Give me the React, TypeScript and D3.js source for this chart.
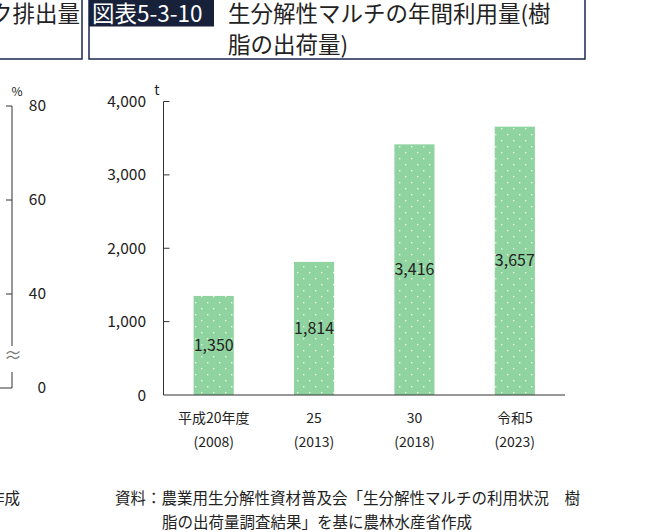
import React from 'react';
import * as d3 from 'd3';

// 図表5-3-10 生分解性マルチの年間利用量
const categories = ['平成20年度', '25', '30', '令和5'];
const years = ['(2008)', '(2013)', '(2018)', '(2023)'];
const values = [1350, 1814, 3416, 3657];
const yTicks = [0, 1000, 2000, 3000, 4000];

// neighbouring chart (cut off at the left edge)
const leftTicks = [80, 60, 40];
const leftBottomLabel = '0';

const W = 663;
const H = 532;
const FONT = '"Noto Sans CJK JP", "Noto Sans", sans-serif';
const INK = '#222';
const NAVY = '#1d2754';

const App: React.FC = () => {
    const margin = { top: 101.5, right: 98, bottom: 137, left: 163.5 };

    const x = d3.scaleBand<string>()
        .domain(categories)
        .range([margin.left, W - margin.right])
        .paddingInner(0.6)
        .paddingOuter(0.3);

    const y = d3.scaleLinear()
        .domain([0, 4000])
        .range([H - margin.bottom, margin.top]);

    const fmt = d3.format(',');

    // left chart: broken axis, the bottom sits where 20 would be
    const yl = d3.scaleLinear().domain([20, 80]).range([388, 106]);
    const lx = 12;

    const y0 = y(0);

    return (
        <svg width={W} height={H} viewBox={`0 0 ${W} ${H}`}
            style={{ position: 'absolute', left: 0, top: 0, background: '#fff' }}
            fontFamily={FONT}>
            <defs>
                <pattern id="dots" width={12} height={12} patternUnits="userSpaceOnUse">
                    <rect width={12} height={12} fill="#8fd3a0" />
                    <rect x={3} y={2} width={1.4} height={1.4} fill="#eaf8d6" />
                    <rect x={9} y={8} width={1.4} height={1.4} fill="#eaf8d6" />
                </pattern>
            </defs>

            {/* title boxes */}
            <path d={`M -2 59 H 82 V -2`} fill="none" stroke={NAVY} strokeWidth={1.5} />
            <text x={80} y={22} fontSize={22.5} fill={INK} textAnchor="end">チック排出量</text>
            <rect x={89} y={-2} width={496} height={61} fill="none" stroke={NAVY} strokeWidth={1.5} />
            <rect x={89} y={0} width={125} height={26.5} fill="#172139" />
            <text x={92} y={22} fontSize={22.5} fill="#fff">図表5-3-10</text>
            <text x={228} y={22} fontSize={22.5} fill={INK}>生分解性マルチの年間利用量(樹</text>
            <text x={228} y={53} fontSize={22.5} fill={INK}>脂の出荷量)</text>

            {/* left neighbour axis */}
            <g stroke="#333" strokeWidth={1} fill="none">
                <line x1={lx} x2={lx} y1={yl(80)} y2={346} />
                <line x1={lx} x2={lx} y1={372} y2={yl(20)} />
                <line x1={-2} x2={lx} y1={yl(20)} y2={yl(20)} />
                {leftTicks.map(t => (
                    <line key={t} x1={lx - 6} x2={lx} y1={yl(t)} y2={yl(t)} />
                ))}
            </g>
            <text x={lx + 1} y={362} fontSize={18} fill="#777" textAnchor="middle">≈</text>
            <text x={17} y={96} fontSize={12} fill={INK} textAnchor="middle">%</text>
            {leftTicks.map(t => (
                <text key={t} x={46} y={yl(t) + 5} fontSize={15.5} fill={INK} textAnchor="end">{t}</text>
            ))}
            <text x={46} y={yl(20) + 5} fontSize={15.5} fill={INK} textAnchor="end">{leftBottomLabel}</text>

            {/* bars */}
            {values.map((v, i) => (
                <rect key={i}
                    x={x(categories[i])}
                    y={y(v)}
                    width={x.bandwidth()}
                    height={y0 - y(v)}
                    fill="url(#dots)" />
            ))}
            {values.map((v, i) => (
                <text key={i}
                    x={(x(categories[i]) ?? 0) + x.bandwidth() / 2}
                    y={(y(v) + y0) / 2 + 5.5}
                    fontSize={16} fill={INK} textAnchor="middle">{fmt(v)}</text>
            ))}

            {/* axes */}
            <g stroke="#333" strokeWidth={1} fill="none">
                <line x1={margin.left} x2={margin.left} y1={y(4000)} y2={y0} />
                <line x1={margin.left} x2={W - margin.right} y1={y0} y2={y0} />
                {yTicks.filter(t => t > 0).map(t => (
                    <line key={t} x1={margin.left} x2={margin.left + 6} y1={y(t)} y2={y(t)} />
                ))}
            </g>
            {yTicks.map(t => (
                <text key={t} x={146} y={y(t) + 5.5} fontSize={15.5} fill={INK} textAnchor="end">{fmt(t)}</text>
            ))}
            <text x={157} y={95} fontSize={14} fill={INK} textAnchor="middle">t</text>

            {categories.map((c, i) => {
                const cx = (x(c) ?? 0) + x.bandwidth() / 2;
                return (
                    <g key={c}>
                        <text x={cx} y={423} fontSize={14} fill={INK} textAnchor="middle">{c}</text>
                        <text x={cx} y={447} fontSize={14} fill={INK} textAnchor="middle">{years[i]}</text>
                    </g>
                );
            })}

            {/* source */}
            <text x={20} y={503.5} fontSize={15.5} fill={INK} textAnchor="end">農林水産省作成</text>
            <text x={115} y={503.5} fontSize={15.5} fill={INK}>資料：農業用生分解性資材普及会「生分解性マルチの利用状況　樹</text>
            <text x={162} y={527.5} fontSize={15.5} fill={INK}>脂の出荷量調査結果」を基に農林水産省作成</text>
        </svg>
    );
};

export default App;
